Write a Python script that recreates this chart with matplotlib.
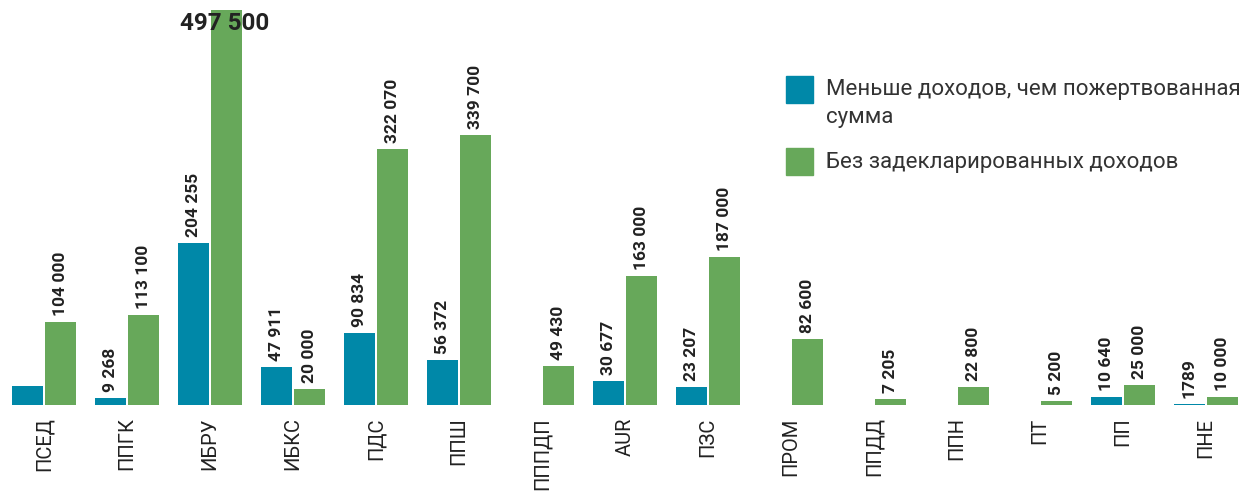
import matplotlib.pyplot as plt
from matplotlib.patches import Rectangle
import numpy as np

categories = ["ПСЕД", "ППГК", "ИБРУ", "ИБКС", "ПДС", "ППШ", "ПППДП", "AUR",
              "ПЗС", "ПРОМ", "ППДД", "ППН", "ПТ", "ПП", "ПНЕ"]
less_income = [24000, 9268, 204255, 47911, 90834, 56372, 0, 30677,
               23207, 0, 0, 0, 0, 10640, 1789]
no_income = [104000, 113100, 497500, 20000, 322070, 339700, 49430, 163000,
             187000, 82600, 7205, 22800, 5200, 25000, 10000]
less_labels = ["", "9 268", "204 255", "47 911", "90 834", "56 372", "", "30 677",
               "23 207", "", "", "", "", "10 640", "1789"]
no_labels = ["104 000", "113 100", "497 500", "20 000", "322 070", "339 700", "49 430",
             "163 000", "187 000", "82 600", "7 205", "22 800", "5 200", "25 000", "10 000"]
legend_lines = [["Меньше доходов, чем пожертвованная", "сумма"],
                ["Без задекларированных доходов"]]

blue = "#0088a8"
green = "#67a85a"

plt.rcParams['font.family'] = ['Roboto', 'DejaVu Sans']

W, H = 1246, 492
fig = plt.figure(figsize=(W / 100, H / 100), dpi=100)
ax = fig.add_axes([0, 87 / H, 1, (H - 87 - 10) / H])

x = np.arange(len(categories))
w = 0.375
ax.bar(x - 0.2, less_income, w, color=blue)
ax.bar(x + 0.2, no_income, w, color=green)

pad = 6 * 497500 / 395
for i in range(len(categories)):
    if less_labels[i]:
        ax.text(x[i] - 0.2, less_income[i] + pad, less_labels[i], rotation=90,
                ha="center", va="bottom", fontsize=12.5, fontweight="bold", color="#222222")
    if no_income[i] == max(no_income):
        ax.text(x[i] + 0.17, no_income[i] - pad / 3, no_labels[i], ha="center", va="top",
                fontsize=17.5, fontweight="bold", color="#222222")
    else:
        ax.text(x[i] + 0.2, no_income[i] + pad, no_labels[i], rotation=90,
                ha="center", va="bottom", fontsize=12.5, fontweight="bold", color="#222222")

ax.set_xlim(-0.53, 14.48)
ax.set_ylim(0, 497500)
ax.set_xticks(x)
ax.set_xticklabels(categories, rotation=90, fontsize=14.5, color="#222222")
ax.tick_params(axis="x", length=0, pad=9)
ax.set_yticks([])
for s in ax.spines.values():
    s.set_visible(False)

# legend drawn by hand so the swatch lines up with the first text line
for (top, color, lines) in [(76, blue, legend_lines[0]), (148, green, legend_lines[1])]:
    fig.add_artist(Rectangle((786 / W, 1 - (top + 27) / H), 27 / W, 27 / H,
                             transform=fig.transFigure, color=color))
    for k, line in enumerate(lines):
        fig.text(826 / W, 1 - (top + 14 + 28 * k) / H, line, ha="left", va="center",
                 fontsize=16, color="#333333")

fig.savefig("out.png", dpi=100)
